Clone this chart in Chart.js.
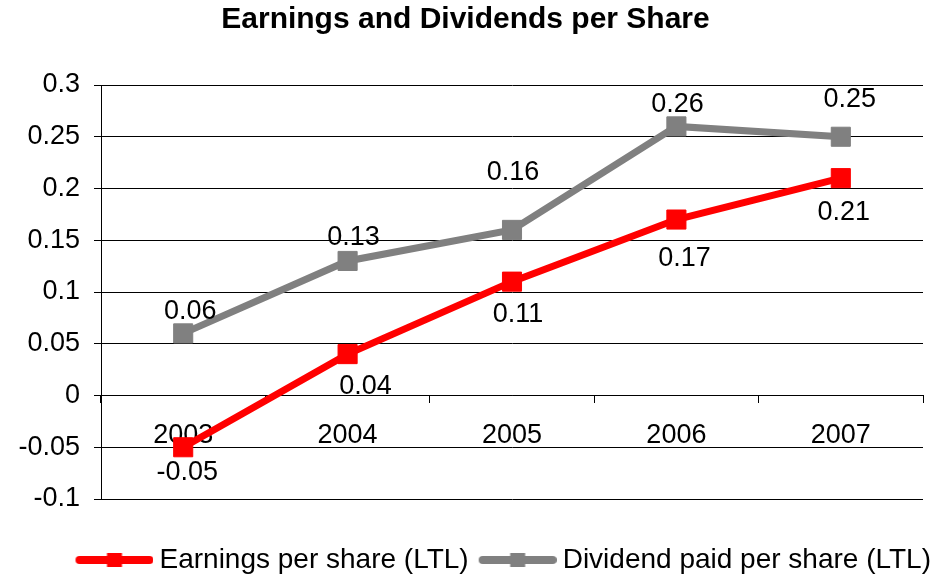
<!DOCTYPE html>
<html>
<head>
<meta charset="utf-8">
<script src="https://cdn.jsdelivr.net/npm/chart.js@4.4.1/dist/chart.umd.min.js"></script>
<style>
  html, body { margin: 0; padding: 0; background: #ffffff; }
  #c { display: block; }
</style>
</head>
<body>
<canvas id="c" width="948" height="576"></canvas>
<script>
// ---- data ----
const categories = ['2003', '2004', '2005', '2006', '2007'];
const earningsPerShare = [-0.05, 0.04, 0.11, 0.17, 0.21];
const dividendPerShare = [0.06, 0.13, 0.16, 0.26, 0.25];
const seriesNames = ['Earnings per share (LTL)', 'Dividend paid per share (LTL)'];
const yMin = -0.1, yMax = 0.3, yStep = 0.05;

const FONT = "'Liberation Sans', Arial, Helvetica, sans-serif";
const RED = '#ff0000';
const GREY = '#808080';

function makeMarker(color) {
  const c = document.createElement('canvas');
  c.width = 86; c.height = 28;
  const g = c.getContext('2d');
  g.strokeStyle = color; g.lineWidth = 8; g.lineCap = 'round';
  g.beginPath(); g.moveTo(12, 14); g.lineTo(82, 14); g.stroke();
  g.fillStyle = color;
  g.fillRect(47 - 7.5, 14 - 7, 15, 14);
  return c;
}
const markers = [makeMarker(RED), makeMarker(GREY)];

// value labels plugin (positions from the chart's own elements)
const valueLabels = {
  id: 'valueLabels',
  afterDatasetsDraw(chart, args, opts) {
    const ctx = chart.ctx;
    ctx.save();
    ctx.font = '27px ' + FONT;
    ctx.fillStyle = '#000';
    ctx.textAlign = 'center';
    ctx.textBaseline = 'middle';
    chart.data.datasets.forEach((ds, di) => {
      const meta = chart.getDatasetMeta(di);
      const off = opts.offsets[di];
      meta.data.forEach((pt, i) => {
        const v = ds.data[i];
        ctx.fillText(String(v), pt.x + off.dx[i], pt.y + off.dy[i]);
      });
    });
    ctx.restore();
  }
};

new Chart(document.getElementById('c'), {
  type: 'line',
  data: {
    labels: categories,
    datasets: [
      {
        label: seriesNames[0],
        data: earningsPerShare,
        borderColor: RED,
        backgroundColor: RED,
        borderWidth: 7,
        pointStyle: 'rect',
        pointRadius: 13.5,
        pointBorderWidth: 1,
        pointBorderColor: RED,
        pointBackgroundColor: RED,
        tension: 0,
        order: 1
      },
      {
        label: seriesNames[1],
        data: dividendPerShare,
        borderColor: GREY,
        backgroundColor: GREY,
        borderWidth: 7,
        pointStyle: 'rect',
        pointRadius: 13.5,
        pointBorderWidth: 1,
        pointBorderColor: GREY,
        pointBackgroundColor: GREY,
        tension: 0,
        order: 2
      }
    ]
  },
  options: {
    responsive: false,
    animation: false,
    devicePixelRatio: 1,
    layout: { padding: { left: -10, right: 7, top: 0, bottom: -8 } },
    scales: {
      x: {
        type: 'category',
        position: { y: 0 },
        offset: true,
        z: 1,
        grid: {
          offset: true,
          drawOnChartArea: false,
          drawTicks: true,
          tickLength: 7,
          color: '#000',
          lineWidth: 1
        },
        border: { display: true, color: '#000', width: 1 },
        ticks: {
          color: '#000',
          font: { family: FONT, size: 27 },
          padding: 17,
          maxRotation: 0,
          autoSkip: false
        }
      },
      y: {
        min: yMin,
        max: yMax,
        afterFit(scale) { scale.width = 111; },
        grid: {
          color: '#000',
          lineWidth: 1,
          drawTicks: true,
          tickLength: 7
        },
        border: { display: true, color: '#000', width: 1 },
        ticks: {
          stepSize: yStep,
          color: '#000',
          font: { family: FONT, size: 27 },
          padding: 14,
          callback: (v) => String(parseFloat(Number(v).toFixed(2)))
        }
      },
      yRightSpace: {
        type: 'linear',
        position: 'right',
        afterFit(scale) { scale.width = 18; },
        grid: { display: false },
        border: { display: false },
        ticks: { display: false }
      }
    },
    plugins: {
      title: {
        display: true,
        text: 'Earnings and Dividends per Share',
        color: '#000',
        font: { family: FONT, size: 30, weight: 'bold' },
        padding: { top: 2, bottom: 47 }
      },
      legend: {
        display: true,
        position: 'bottom',
        align: 'end',
        title: {
          display: true,
          text: ' ',
          font: { size: 10, lineHeight: 1 },
          padding: { top: 27, bottom: 0 }
        },
        labels: {
          color: '#000',
          font: { family: FONT, size: 28 },
          usePointStyle: true,
          pointStyleWidth: 70,
          padding: 10,
          generateLabels(chart) {
            return chart.data.datasets.map((ds, i) => ({
              text: ds.label,
              pointStyle: markers[i],
              fillStyle: ds.borderColor,
              strokeStyle: ds.borderColor,
              lineWidth: 0,
              hidden: false,
              datasetIndex: i,
              fontColor: '#000'
            }));
          }
        }
      },
      tooltip: { enabled: false },
      valueLabels: {
        offsets: [
          { dx: [4, 18, 6, 8, 3], dy: [25, 32, 33, 39, 34] },
          { dx: [7, 6, 1, 1, 9], dy: [-22, -23.5, -57, -22, -37] }
        ]
      }
    }
  },
  plugins: [valueLabels]
});
</script>
</body>
</html>
